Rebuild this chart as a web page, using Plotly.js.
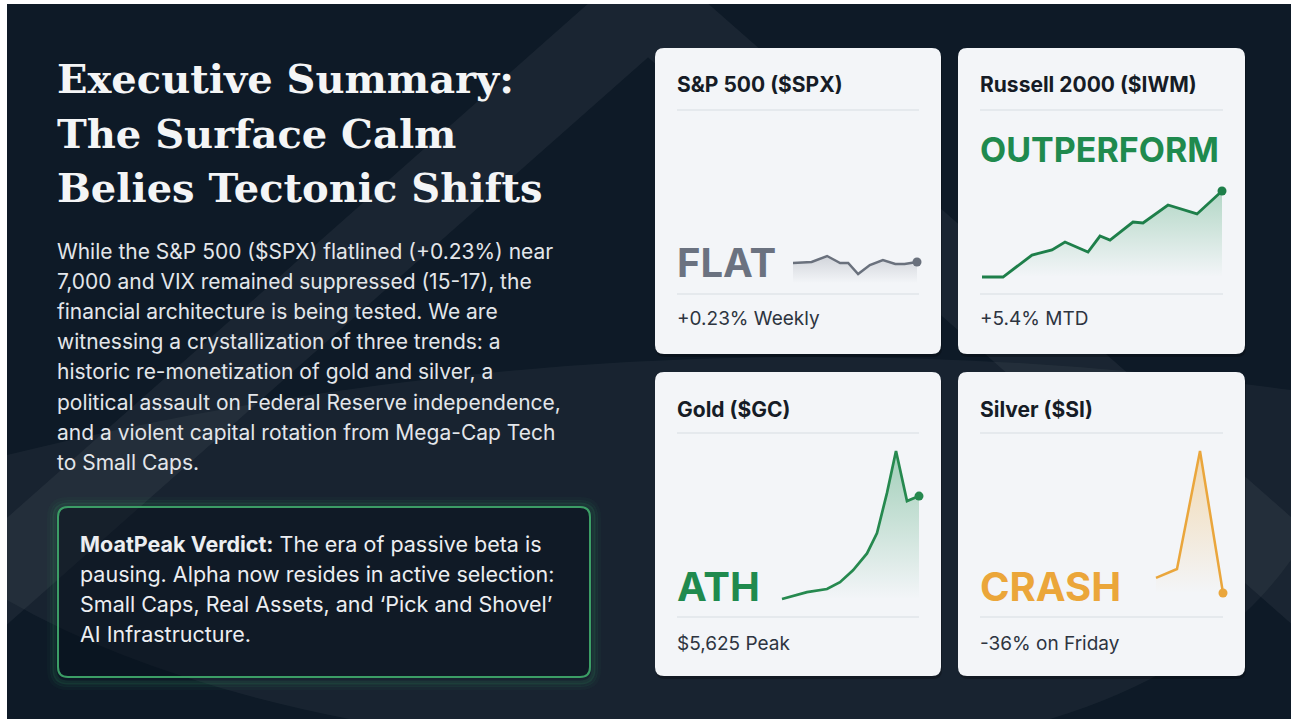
<!DOCTYPE html>
<html>
<head>
<meta charset="utf-8">
<script src="https://cdn.plot.ly/plotly-3.0.1.min.js"></script>
<style>
  html, body { margin: 0; padding: 0; background: #ffffff; }
  #chart { width: 1291px; height: 719px; }
</style>
</head>
<body>
<div id="chart"></div>
<script>
// ---------------- DATA ----------------
const titleLines = ["Executive Summary:", "The Surface Calm", "Belies Tectonic Shifts"];
const paragraphLines = [
  "While the S&P 500 ($SPX) flatlined (+0.23%) near",
  "7,000 and VIX remained suppressed (15-17), the",
  "financial architecture is being tested. We are",
  "witnessing a crystallization of three trends: a",
  "historic re-monetization of gold and silver, a",
  "political assault on Federal Reserve independence,",
  "and a violent capital rotation from Mega-Cap Tech",
  "to Small Caps."
];
const verdictLines = [
  "<b>MoatPeak Verdict:</b> The era of passive beta is",
  "pausing. Alpha now resides in active selection:",
  "Small Caps, Real Assets, and \u2018Pick and Shovel\u2019",
  "AI Infrastructure."
];
const cardTitles = ["S&P 500 ($SPX)", "Russell 2000 ($IWM)", "Gold ($GC)", "Silver ($SI)"];
const cardVerdicts = ["FLAT", "OUTPERFORM", "ATH", "CRASH"];
const cardFooters = ["+0.23% Weekly", "+5.4% MTD", "$5,625 Peak", "-36% on Friday"];

// S&P 500 intraweek level
const spxX = [0, 3, 5.5, 7.6, 8.9, 10.5, 12.4, 14.5, 16.5, 18, 20];
const spxY = [6940, 6942, 6954, 6940, 6940, 6918, 6936, 6946, 6938, 6938, 6942];
// Russell 2000 month-to-date % change
const iwmX = [0, 2.1, 5, 7, 8.3, 10.6, 11.8, 12.8, 15.1, 16.1, 18.6, 21.5, 24];
const iwmY = [0, 0, 1.38, 1.70, 2.20, 1.57, 2.57, 2.32, 3.45, 3.39, 4.52, 3.96, 5.4];
// Gold price ($)
const gcX = [0, 5, 9, 11.6, 14.2, 17, 19, 21, 22.8, 25, 27.4];
const gcY = [4000, 4075, 4110, 4185, 4315, 4500, 4725, 5165, 5625, 5075, 5130];
// Silver price ($)
const siX = [0, 0.94, 1.97, 3];
const siY = [81.4, 84.1, 120, 76.8];

// ---------------- STYLE / LAYOUT ----------------
const W = 1291, H = 719;
const SANS = 'Inter, "Noto Sans", "DejaVu Sans", sans-serif';
const SERIF = '"DejaVu Serif", "Liberation Serif", serif';
const GREEN = '#1f8a4e';
const ORANGE = '#eba63a';
const GREY = '#6b7280';

function rr(x0, y0, x1, y1, r) {
  return `M${x0 + r},${y0} L${x1 - r},${y0} Q${x1},${y0} ${x1},${y0 + r} L${x1},${y1 - r} Q${x1},${y1} ${x1 - r},${y1} L${x0 + r},${y1} Q${x0},${y1} ${x0},${y1 - r} L${x0},${y0 + r} Q${x0},${y0} ${x0 + r},${y0} Z`;
}

const shapes = [];
// dark page background
shapes.push({type: 'rect', xref: 'x', yref: 'y', x0: 7, y0: 4, x1: W, y1: H, fillcolor: '#0e1a27', line: {width: 0}, layer: 'below'});
// faint watermark: swoosh band
shapes.push({type: 'path', xref: 'x', yref: 'y', layer: 'below',
  path: 'M 7,455 Q 640,300 1291,390 L 1291,560 Q 1150,760 720,760 Q 250,740 7,600 Z',
  fillcolor: 'rgba(255,255,255,0.045)', line: {width: 0}});
// faint watermark: peak "A"
shapes.push({type: 'path', xref: 'x', yref: 'y', layer: 'below',
  path: 'M -160,719 L 648,4 L 1460,719',
  fillcolor: 'rgba(0,0,0,0)', line: {color: 'rgba(255,255,255,0.05)', width: 80}});
// white frame strips
shapes.push({type: 'rect', xref: 'x', yref: 'y', x0: -20, y0: -20, x1: 7, y1: H + 20, fillcolor: '#ffffff', line: {width: 0}, layer: 'below'});
shapes.push({type: 'rect', xref: 'x', yref: 'y', x0: -20, y0: -20, x1: W + 20, y1: 4, fillcolor: '#ffffff', line: {width: 0}, layer: 'below'});

// verdict box with glow
const vb = [58, 507, 590, 677];
[[9, 0.04], [6, 0.07], [3.5, 0.12]].forEach(([g, a]) => {
  shapes.push({type: 'path', xref: 'x', yref: 'y', layer: 'below',
    path: rr(vb[0] - g, vb[1] - g + 1, vb[2] + g, vb[3] + g + 2, 10 + g),
    fillcolor: 'rgba(0,0,0,0)', line: {color: `rgba(60,190,110,${a})`, width: 4}});
});
shapes.push({type: 'path', xref: 'x', yref: 'y', layer: 'below', path: rr(vb[0], vb[1], vb[2], vb[3], 10),
  fillcolor: 'rgba(6,16,26,0.45)', line: {color: '#3c9e66', width: 2}});

// cards
const cards = [
  {x0: 655, y0: 48, x1: 941, y1: 354, tx: 677, tEnd: 919, ty: 84, d1: 110, vy: 262, d2: 294, fy: 318, vsize: 40, vcolor: GREY},
  {x0: 958, y0: 48, x1: 1245, y1: 354, tx: 980, tEnd: 1223, ty: 84, d1: 110, vy: 149, d2: 294, fy: 318, vsize: 34, vcolor: GREEN},
  {x0: 655, y0: 372, x1: 941, y1: 676, tx: 677, tEnd: 919, ty: 409, d1: 433, vy: 586, d2: 617, fy: 643, vsize: 40, vcolor: GREEN},
  {x0: 958, y0: 372, x1: 1245, y1: 676, tx: 980, tEnd: 1223, ty: 409, d1: 433, vy: 586, d2: 617, fy: 643, vsize: 40, vcolor: ORANGE}
];
cards.forEach(c => {
  shapes.push({type: 'path', xref: 'x', yref: 'y', layer: 'below', path: rr(c.x0 + 1, c.y0 + 3, c.x1 + 1, c.y1 + 3, 9),
    fillcolor: 'rgba(0,0,0,0.25)', line: {width: 0}});
  shapes.push({type: 'path', xref: 'x', yref: 'y', layer: 'below', path: rr(c.x0, c.y0, c.x1, c.y1, 9),
    fillcolor: '#f3f5f8', line: {width: 0}});
  [c.d1, c.d2].forEach(dy => shapes.push({type: 'line', xref: 'x', yref: 'y', layer: 'below',
    x0: c.tx, x1: c.tEnd, y0: dy, y1: dy, line: {color: '#e1e5ea', width: 1.5}}));
});

// annotations
const annotations = [];
function txt(x, y, text, size, color, family) {
  annotations.push({xref: 'x', yref: 'y', x, y, text, showarrow: false, xanchor: 'left', yanchor: 'middle',
    font: {size, color, family}, align: 'left'});
}
const titleY = [78, 133, 187];
titleLines.forEach((t, i) => txt(55, titleY[i], '<b>' + t + '</b>', 40, '#f4f5f6', SERIF));
paragraphLines.forEach((t, i) => txt(55, 251 + i * 30.2, t, 21, '#e3e6ea', SANS));
verdictLines.forEach((t, i) => txt(78, 544 + i * 30, t, 21.5, '#eceef1', SANS));
cards.forEach((c, i) => {
  txt(c.tx - 2, c.ty, '<b>' + cardTitles[i] + '</b>', 21, '#161c26', SANS);
  txt(c.tx - 2, c.vy, '<b>' + cardVerdicts[i] + '</b>', c.vsize, c.vcolor, SANS);
  txt(c.tx - 2, c.fy, cardFooters[i], 19, '#2d3440', SANS);
});

// sparklines: pixel box where data extents land
const layout = {
  width: W, height: H, margin: {l: 0, r: 0, t: 0, b: 0},
  paper_bgcolor: '#ffffff', plot_bgcolor: 'rgba(0,0,0,0)',
  showlegend: false, hovermode: false,
  xaxis: {range: [0, W], domain: [0, 1], visible: false, fixedrange: true},
  yaxis: {range: [H, 0], domain: [0, 1], visible: false, fixedrange: true},
  shapes, annotations
};
const traces = [];
const sparks = [
  {xs: spxX, ys: spxY, box: [793, 917, 256, 274], pad: 6, pb: 9, color: '#6a717d', fill: [107, 114, 128], alpha: 0.25, width: 2.5},
  {xs: iwmX, ys: iwmY, box: [982, 1222, 191, 277], pad: 6, pb: 4, color: '#1e7f4a', fill: [40, 150, 90], alpha: 0.32, width: 2.8},
  {xs: gcX, ys: gcY, box: [782, 919, 451, 599], pad: 6, pb: 4, color: '#26894f', fill: [40, 150, 90], alpha: 0.4, width: 2.7},
  {xs: siX, ys: siY, box: [1156, 1223, 451, 593], pad: 6, pb: 9, color: '#eaa63c', fill: [240, 170, 60], alpha: 0.38, width: 2.5}
];
sparks.forEach((s, i) => {
  const n = i + 2;
  const [L, R, T, B] = s.box;
  const xmin = Math.min(...s.xs), xmax = Math.max(...s.xs);
  const ymin = Math.min(...s.ys), ymax = Math.max(...s.ys);
  const kx = (xmax - xmin) / (R - L), ky = (ymax - ymin) / (B - T);
  const yBottom = ymin - s.pb * ky;
  layout['xaxis' + n] = {domain: [(L - s.pad) / W, (R + s.pad) / W], range: [xmin - s.pad * kx, xmax + s.pad * kx],
    visible: false, fixedrange: true, anchor: 'y' + n};
  layout['yaxis' + n] = {domain: [1 - (B + s.pb) / H, 1 - (T - s.pad) / H], range: [yBottom, ymax + s.pad * ky],
    visible: false, fixedrange: true, anchor: 'x' + n};
  const [r, g, b] = s.fill;
  traces.push({x: s.xs, y: s.ys, xaxis: 'x' + n, yaxis: 'y' + n, mode: 'lines', hoverinfo: 'skip',
    line: {color: s.color, width: s.width}, fill: 'tozeroy',
    fillgradient: {type: 'vertical', start: (i === 0 ? yBottom : ymin), stop: ymax,
      colorscale: [[0, `rgba(${r},${g},${b},0)`], [1, `rgba(${r},${g},${b},${s.alpha})`]]}});
  traces.push({x: [s.xs[s.xs.length - 1]], y: [s.ys[s.ys.length - 1]], xaxis: 'x' + n, yaxis: 'y' + n,
    mode: 'markers', hoverinfo: 'skip', marker: {color: s.color, size: 9}});
});

Plotly.newPlot('chart', traces, layout, {staticPlot: true, displayModeBar: false});
</script>
</body>
</html>
